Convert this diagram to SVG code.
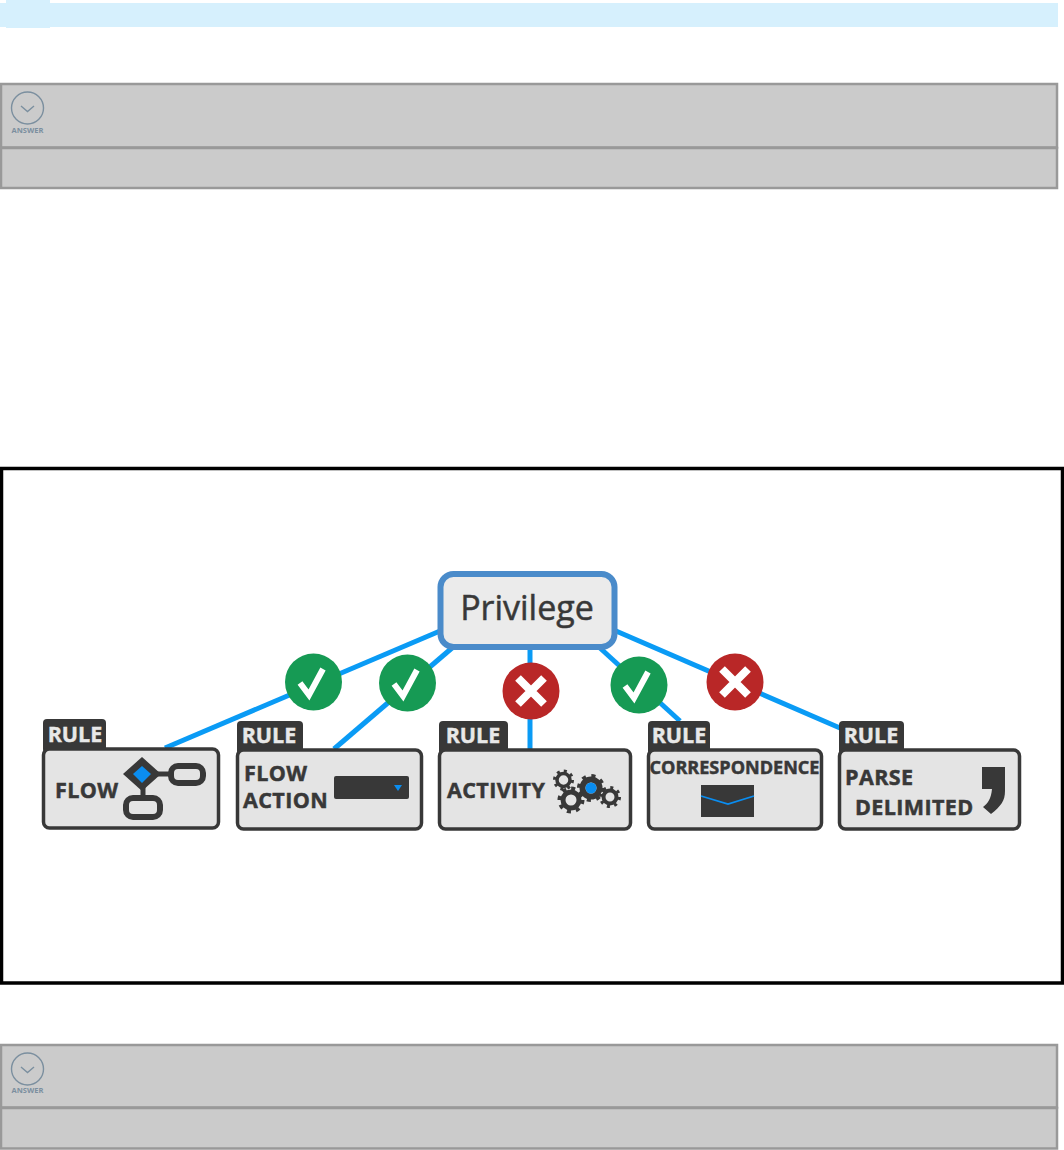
<svg xmlns="http://www.w3.org/2000/svg" width="1064" height="1150" viewBox="0 0 1064 1150">
<style>
.panel{fill:#cbcbcb;stroke:#999;stroke-width:2.5}
.ans{fill:none;stroke:#7b8f9f;stroke-width:1.4}
.anst{font:bold 7.500px "Open Sans","Noto Sans",sans-serif;fill:#7b8f9f;text-anchor:middle}
.box{fill:#e4e4e4;stroke:#383838;stroke-width:3.5}
.tab{fill:#383838}
.rule{font:bold 21.500px "Open Sans","Noto Sans",sans-serif;fill:#e8e8e8;text-anchor:middle;stroke:#e8e8e8;stroke-width:.4}
.lab{font:bold 21.500px "Open Sans","Noto Sans",sans-serif;fill:#383838;stroke:#383838;stroke-width:.5;letter-spacing:.4px}
.con{stroke:#0a9bf5;stroke-width:5;fill:none}
.green{fill:#169a54}
.red{fill:#b92727}
.mark{fill:none;stroke:#fff;stroke-linecap:butt}
.ic{fill:none;stroke:#383838;stroke-width:6}
.gear{fill:none;stroke:#383838}
</style>
<rect x="0" y="3" width="1058" height="24" fill="#d6f0fd"/>
<rect x="6" y="0" width="44" height="28" fill="#d6f0fd"/>

<g id="answer-top">
<rect class="panel" x="1" y="84" width="1056" height="63.500"/>
<rect class="panel" x="1" y="148" width="1056" height="40"/>
<circle class="ans" cx="27.500" cy="108" r="16"/>
<path class="ans" d="M21 106l6.500 5.500 6.500-5.500"/>
<text class="anst" x="27.500" y="133">ANSWER</text>
</g>

<rect x="1.500" y="468.500" width="1061" height="514.500" fill="#fff" stroke="#000" stroke-width="3.500"/>

<g id="connectors">
<path class="con" d="M165 748L440 631"/>
<path class="con" d="M334 749L452 648"/>
<path class="con" d="M530 648V749"/>
<path class="con" d="M600 648L680 721"/>
<path class="con" d="M616 631L840 728"/>
</g>

<g id="privilege">
<rect x="440.500" y="574" width="174" height="73" rx="13" fill="#ebebeb" stroke="#4a8bca" stroke-width="6"/>
<text x="527" y="620" font-family="'Open Sans','Noto Sans',sans-serif" font-size="34" fill="#383838" stroke="#383838" stroke-width=".5" text-anchor="middle">Privilege</text>
</g>

<g id="status-1"><circle class="green" cx="313.500" cy="682" r="28.500"/><path class="mark" stroke-width="6" d="M300 683l9 12 14-26"/></g>
<g id="status-2"><circle class="green" cx="407.500" cy="683" r="28.500"/><path class="mark" stroke-width="6" d="M394 684l9 12 14-26"/></g>
<g id="status-3"><circle class="red" cx="531" cy="691" r="28.500"/><path class="mark" stroke-width="8" d="M518 678l26 26M544 678l-26 26"/></g>
<g id="status-4"><circle class="green" cx="639" cy="685" r="28.500"/><path class="mark" stroke-width="6" d="M625 686l9 12 14-26"/></g>
<g id="status-5"><circle class="red" cx="735" cy="682" r="28.500"/><path class="mark" stroke-width="8" d="M722 669l26 26M748 669l-26 26"/></g>

<g id="rule-flow">
<rect class="tab" x="43" y="719" width="63" height="34" rx="4"/>
<rect class="box" x="43.500" y="749" width="175" height="79" rx="6"/>
<text class="rule" x="75" y="742">RULE</text>
<text class="lab" x="55" y="798">FLOW</text>
<path d="M143 785v12M155 774h16" stroke="#383838" stroke-width="5"/>
<path d="M142 757l19 17-19 17-19-17z" fill="#383838"/>
<path d="M142 766l9 8-9 9-9-9z" fill="#0a8df0"/>
<rect class="ic" x="171" y="766" width="32" height="17" rx="7"/>
<rect class="ic" x="126" y="798" width="34" height="19" rx="7"/>
</g>

<g id="rule-flow-action">
<rect class="tab" x="237" y="721" width="66" height="34" rx="4"/>
<rect class="box" x="237.500" y="750" width="184" height="79" rx="6"/>
<text class="rule" x="269" y="743">RULE</text>
<text class="lab" x="244" y="781">FLOW</text>
<text class="lab" x="243" y="808">ACTION</text>
<rect x="334" y="776" width="75" height="23" rx="2" fill="#383838"/>
<path d="M394 785h8l-4 6z" fill="#0a8df0"/>
</g>

<g id="rule-activity">
<rect class="tab" x="439" y="721" width="69" height="34" rx="4"/>
<rect class="box" x="439.500" y="750" width="191" height="79" rx="6"/>
<text class="rule" x="473" y="743">RULE</text>
<text class="lab" x="447" y="798">ACTIVITY</text>
<circle class="gear" cx="563.500" cy="780" r="6.500" stroke-width="3.500"/><circle class="gear" cx="563.500" cy="780" r="9" stroke-width="3" stroke-dasharray="3 4.070"/>
<circle class="gear" cx="571" cy="800" r="8" stroke-width="5"/><circle class="gear" cx="571" cy="800" r="11.500" stroke-width="4" stroke-dasharray="4 5"/>
<circle class="gear" cx="591" cy="788" r="8.500" stroke-width="6"/><circle class="gear" cx="591" cy="788" r="12" stroke-width="4" stroke-dasharray="4 5.420"/>
<circle cx="591" cy="788" r="5.500" fill="#0a8df0"/>
<circle class="gear" cx="610" cy="797" r="6.500" stroke-width="4"/><circle class="gear" cx="610" cy="797" r="9.500" stroke-width="3" stroke-dasharray="3 4.460"/>
</g>

<g id="rule-correspondence">
<rect class="tab" x="648" y="721" width="62" height="34" rx="4"/>
<rect class="box" x="648.500" y="750" width="173" height="79" rx="6"/>
<text class="rule" x="679" y="743">RULE</text>
<text class="lab" x="649.500" y="774" textLength="170" lengthAdjust="spacingAndGlyphs" style="font-size:18.500px;letter-spacing:0">CORRESPONDENCE</text>
<rect x="701" y="785" width="53" height="32" fill="#383838"/>
<path d="M701 796l27 8 26-8" fill="none" stroke="#0a8df0" stroke-width="1.800"/>
</g>

<g id="rule-parse">
<rect class="tab" x="839" y="721" width="65" height="34" rx="4"/>
<rect class="box" x="839.500" y="750" width="180" height="79" rx="6"/>
<text class="rule" x="871" y="743">RULE</text>
<text class="lab" x="845" y="785">PARSE</text>
<text class="lab" x="855" y="815">DELIMITED</text>
<path d="M982 767h23v24c0 10-4 15-14 23l-8-7c5-4 8-8 9-18h-10z" fill="#383838"/>
</g>

<g id="answer-bottom">
<rect class="panel" x="1" y="1045" width="1056" height="62.500"/>
<rect class="panel" x="1" y="1108" width="1056" height="40.500"/>
<circle class="ans" cx="27.500" cy="1069" r="16"/>
<path class="ans" d="M21 1067l6.500 5.500 6.500-5.500"/>
<text class="anst" x="27.500" y="1093">ANSWER</text>
</g>
</svg>
